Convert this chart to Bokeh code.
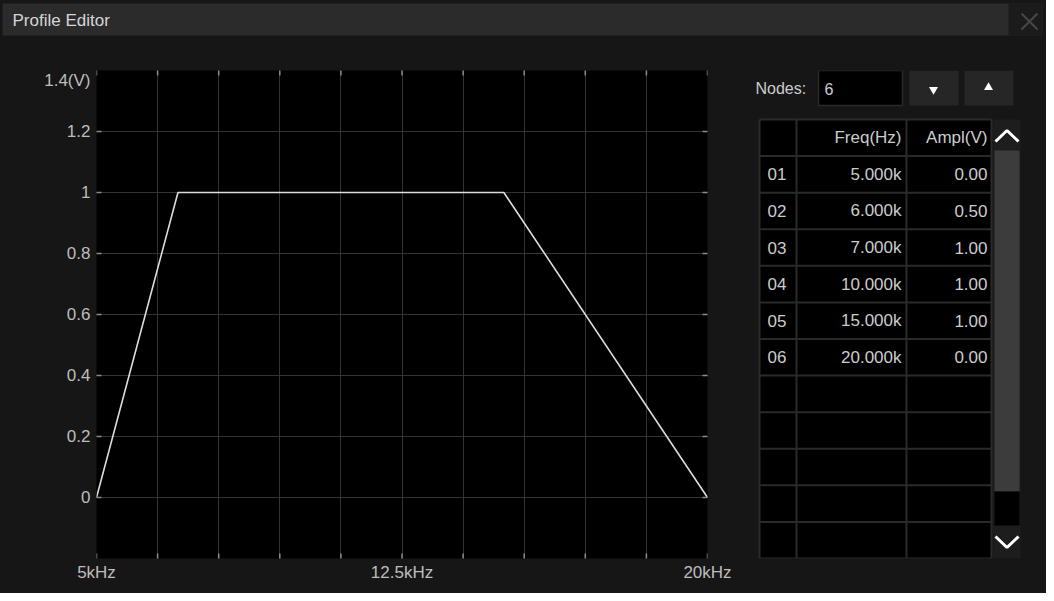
import math
from bokeh.plotting import figure
from bokeh.layouts import column, row
from bokeh.models import Range1d, FixedTicker, LinearAxis, Label, Grid
from bokeh.embed import file_html
from bokeh.resources import INLINE

# ---------------- data ----------------
node_freq_khz = [5.0, 6.0, 7.0, 10.0, 15.0, 20.0]
node_ampl_v = [0.00, 0.50, 1.00, 1.00, 1.00, 0.00]
x_grid_hz = [5000, 6500, 8000, 9500, 11000, 12500, 14000, 15500, 17000, 18500, 20000]
x_tick_hz = [5000, 12500, 20000]
x_tick_labels = ["5kHz", "12.5kHz", "20kHz"]
y_ticks = [0, 0.2, 0.4, 0.6, 0.8, 1.0, 1.2]
y_tick_labels = ["0", "0.2", "0.4", "0.6", "0.8", "1", "1.2"]
y_top = 1.4
y_top_label = "1.4(V)"
node_count = len(node_freq_khz)
table_rows = 11
header = ["", "Freq(Hz)", "Ampl(V)"]

FONT = "Liberation Sans"
BG = "#161616"
TXT = "#cccccc"

# chart geometry (pixels)
FR_TOP, FR_BOT = 22, 35
FIG_H = 545
FRAME_H = FIG_H - FR_TOP - FR_BOT

# ---------------- title bar ----------------
tf = figure(width=1046, height=48, x_range=Range1d(8, 1054), y_range=Range1d(56, 8),
            output_backend="svg", toolbar_location=None, min_border=0)
tf.axis.visible = False
tf.grid.visible = False
tf.outline_line_color = None
tf.background_fill_color = None
tf.border_fill_color = BG
tf.quad(left=[10], right=[1050], top=[11], bottom=[43], fill_color="#2b2b2b", line_color=None)
tf.quad(left=[1016], right=[1050], top=[11], bottom=[43], fill_color="#1b1b1b", line_color=None)
tf.segment(x0=[1029, 1029], y0=[21, 37], x1=[1045, 1045], y1=[37, 21], line_color="#484848", line_width=2)
tf.add_layout(Label(x=20, y=28, text="Profile Editor", text_font=FONT, text_font_size="17px",
                    text_color="#d6d6d6", text_baseline="middle", text_align="left"))

# ---------------- chart ----------------
p = figure(width=737, height=FIG_H, x_range=Range1d(5000, 20000), y_range=Range1d(-0.2, 1.4),
           output_backend="svg", toolbar_location=None,
           min_border_left=96, min_border_right=30, min_border_top=FR_TOP, min_border_bottom=FR_BOT,
           x_axis_type=None, y_axis_type=None)
p.background_fill_color = "#000000"
p.border_fill_color = BG
p.outline_line_color = None

p.add_layout(Grid(dimension=0, ticker=FixedTicker(ticks=x_grid_hz), grid_line_color="#333333", grid_line_width=1))
p.add_layout(Grid(dimension=1, ticker=FixedTicker(ticks=y_ticks), grid_line_color="#333333", grid_line_width=1))

xs = [f * 1000 for f in node_freq_khz]
p.line(xs, node_ampl_v, line_color="#dcdcdc", line_width=1.6)

# short inner tick marks on all four edges
TICK_C = "#8c8c8c"
p.scatter(x_grid_hz, [-0.2] * len(x_grid_hz), marker="dash", angle=math.pi / 2, size=10,
          line_color=TICK_C, line_width=1.5)
p.scatter(x_grid_hz, [1.4] * len(x_grid_hz), marker="dash", angle=math.pi / 2, size=10,
          line_color=TICK_C, line_width=1.5)
p.scatter([5000] * len(y_ticks), y_ticks, marker="dash", size=10, line_color=TICK_C, line_width=1.5)
p.scatter([20000] * len(y_ticks), y_ticks, marker="dash", size=10, line_color=TICK_C, line_width=1.5)

def style_axis(ax):
    ax.axis_line_color = None
    ax.major_tick_in = 0
    ax.major_tick_out = 0
    ax.major_tick_line_color = None
    ax.minor_tick_line_color = None
    ax.major_label_text_font = FONT
    ax.major_label_text_color = "#bdbdbd"
    ax.major_label_text_font_size = "17px"

xb = LinearAxis(ticker=FixedTicker(ticks=x_tick_hz),
                major_label_overrides={t: s for t, s in zip(x_tick_hz, x_tick_labels)})
style_axis(xb)
xb.major_label_standoff = 4
p.add_layout(xb, "below")

# the top label sits just under the frame's top edge (about 10 px lower)
y_top_pos = y_top - 10 * (1.4 - (-0.2)) / FRAME_H
yl = LinearAxis(ticker=FixedTicker(ticks=y_ticks + [y_top_pos]),
                major_label_overrides={**{t: s for t, s in zip(y_ticks, y_tick_labels)},
                                       y_top_pos: y_top_label})
style_axis(yl)
yl.major_label_standoff = 6
p.add_layout(yl, "left")

# ---------------- right panel ----------------
# its frame is aligned with the chart frame (page y 78..566)
tb = figure(width=309, height=FIG_H, x_range=Range1d(745, 1054), y_range=Range1d(566, 78),
            output_backend="svg", toolbar_location=None,
            min_border_left=0, min_border_right=0, min_border_top=FR_TOP, min_border_bottom=FR_BOT)
tb.axis.visible = False
tb.grid.visible = False
tb.outline_line_color = None
tb.background_fill_color = None
tb.border_fill_color = BG

def lab(x, y, text, align="left", color=TXT, size="17px"):
    tb.add_layout(Label(x=x, y=y, text=text, text_font=FONT, text_font_size=size,
                        text_color=color, text_align=align, text_baseline="middle"))

lab(763, 96, "Nodes:", size="16px")
tb.quad(left=[826], right=[910], top=[78], bottom=[113], fill_color="#000000", line_color="#2a2a2a", line_width=1.5)
lab(832, 96, str(node_count), size="16px")
tb.quad(left=[917, 972], right=[966, 1021], top=[78, 78], bottom=[113, 113], fill_color="#262626", line_color=None)
tb.scatter([941], [97], marker="inverted_triangle", size=9, fill_color="#ffffff", line_color=None)
tb.scatter([996], [95], marker="triangle", size=9, fill_color="#ffffff", line_color=None)

# table
t_left, t_right = 767, 999
col_edges = [767, 804, 914, 999]
t_top, t_bot = 127, 566
n_lines = table_rows + 1
rh = (t_bot - t_top) / n_lines
tb.quad(left=[t_left], right=[t_right], top=[t_top], bottom=[t_bot], fill_color="#000000", line_color=None)
row_edges = [t_top + i * rh for i in range(n_lines + 1)]
tb.segment(x0=[t_left] * len(row_edges), x1=[t_right] * len(row_edges), y0=row_edges, y1=row_edges,
           line_color="#2a2a2a", line_width=2)
tb.segment(x0=col_edges, x1=col_edges, y0=[t_top] * 4, y1=[t_bot] * 4, line_color="#2a2a2a", line_width=2)

hy = t_top + rh / 2
lab(909, hy, header[1], align="right")
lab(995, hy, header[2], align="right")
for i, (f, a) in enumerate(zip(node_freq_khz, node_ampl_v)):
    cy = t_top + rh * (i + 1) + rh / 2
    lab(775, cy, f"{i + 1:02d}")
    lab(909, cy, f"{f:.3f}k", align="right")
    lab(995, cy, f"{a:.2f}", align="right")

# scrollbar
tb.quad(left=[1001], right=[1028], top=[127], bottom=[566], fill_color="#1d1d1d", line_color=None)
tb.quad(left=[1002], right=[1027], top=[158], bottom=[499], fill_color="#3c3c3c", line_color=None)
tb.quad(left=[1002], right=[1027], top=[499], bottom=[533], fill_color="#000000", line_color=None)
tb.line([1003, 1014.5, 1026], [149, 138, 149], line_color="#ffffff", line_width=3)
tb.line([1003, 1014.5, 1026], [544, 555, 544], line_color="#ffffff", line_width=3)

body = row(p, tb, spacing=0, styles={"background-color": BG})
layout = column(tf, body, spacing=0, styles={"background-color": BG})
open("out.html", "w").write(file_html(layout, INLINE))
